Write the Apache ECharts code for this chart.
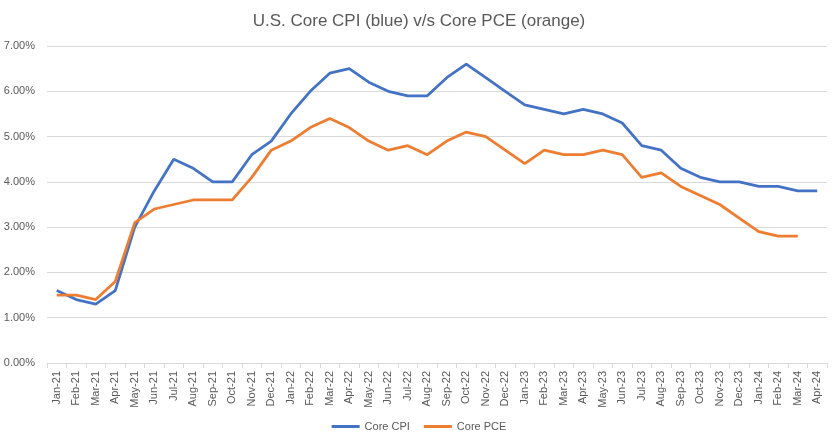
<!DOCTYPE html>
<html>
<head>
<meta charset="utf-8">
<script src="https://cdn.jsdelivr.net/npm/echarts@6/dist/echarts.min.js"></script>
<style>html,body{margin:0;padding:0;background:#fff}#c{width:838px;height:441px}</style>
</head>
<body>
<div id="c"></div>
<script>
const categories = ["Jan-21","Feb-21","Mar-21","Apr-21","May-21","Jun-21","Jul-21","Aug-21","Sep-21","Oct-21","Nov-21","Dec-21",
"Jan-22","Feb-22","Mar-22","Apr-22","May-22","Jun-22","Jul-22","Aug-22","Sep-22","Oct-22","Nov-22","Dec-22",
"Jan-23","Feb-23","Mar-23","Apr-23","May-23","Jun-23","Jul-23","Aug-23","Sep-23","Oct-23","Nov-23","Dec-23",
"Jan-24","Feb-24","Mar-24","Apr-24"];
const coreCPI = [1.6,1.4,1.3,1.6,3.0,3.8,4.5,4.3,4.0,4.0,4.6,4.9,
5.5,6.0,6.4,6.5,6.2,6.0,5.9,5.9,6.3,6.6,6.3,6.0,
5.7,5.6,5.5,5.6,5.5,5.3,4.8,4.7,4.3,4.1,4.0,4.0,
3.9,3.9,3.8,3.8];
const corePCE = [1.5,1.5,1.4,1.8,3.1,3.4,3.5,3.6,3.6,3.6,4.1,4.7,
4.9,5.2,5.4,5.2,4.9,4.7,4.8,4.6,4.9,5.1,5.0,4.7,
4.4,4.7,4.6,4.6,4.7,4.6,4.1,4.2,3.9,3.7,3.5,3.2,
2.9,2.8,2.8,null];
const yTicks = [0,1,2,3,4,5,6,7];

const font = '"Liberation Sans", Arial, sans-serif';
const chart = echarts.init(document.getElementById('c'), null, {renderer:'canvas'});
chart.setOption({
  animation:false,
  backgroundColor:'#ffffff',
  title:{text:'U.S. Core CPI (blue) v/s Core PCE (orange)', left:'center', top:8,
    textStyle:{fontFamily:font, fontSize:17, fontWeight:'normal', color:'#595959'}},
  legend:{bottom:4, left:'center', icon:'rect', itemWidth:28, itemHeight:3, itemGap:14,
    textStyle:{fontFamily:font, fontSize:11, color:'#595959'},
    data:['Core CPI','Core PCE']},
  grid:{left:47, right:11, top:46, bottom:78},
  xAxis:{type:'category', data:categories, boundaryGap:true,
    axisLine:{lineStyle:{color:'#d9d9d9'}},
    axisTick:{show:true, length:5, lineStyle:{color:'#d9d9d9'}},
    axisLabel:{rotate:90, interval:0, fontFamily:font, fontSize:11, color:'#595959', margin:8}},
  yAxis:{type:'value', min:yTicks[0], max:yTicks[yTicks.length-1], interval:1,
    axisLine:{show:false}, axisTick:{show:false},
    splitLine:{lineStyle:{color:'#d9d9d9'}},
    axisLabel:{fontFamily:font, fontSize:11, color:'#595959', margin:12,
      formatter:v=>v.toFixed(2)+'%'}},
  series:[
    {name:'Core CPI', type:'line', data:coreCPI, symbol:'none', lineStyle:{width:2.75, color:'#4472C4'}, itemStyle:{color:'#4472C4'}},
    {name:'Core PCE', type:'line', data:corePCE, symbol:'none', lineStyle:{width:2.75, color:'#ED7D31'}, itemStyle:{color:'#ED7D31'}}
  ]
});
</script>
</body>
</html>
